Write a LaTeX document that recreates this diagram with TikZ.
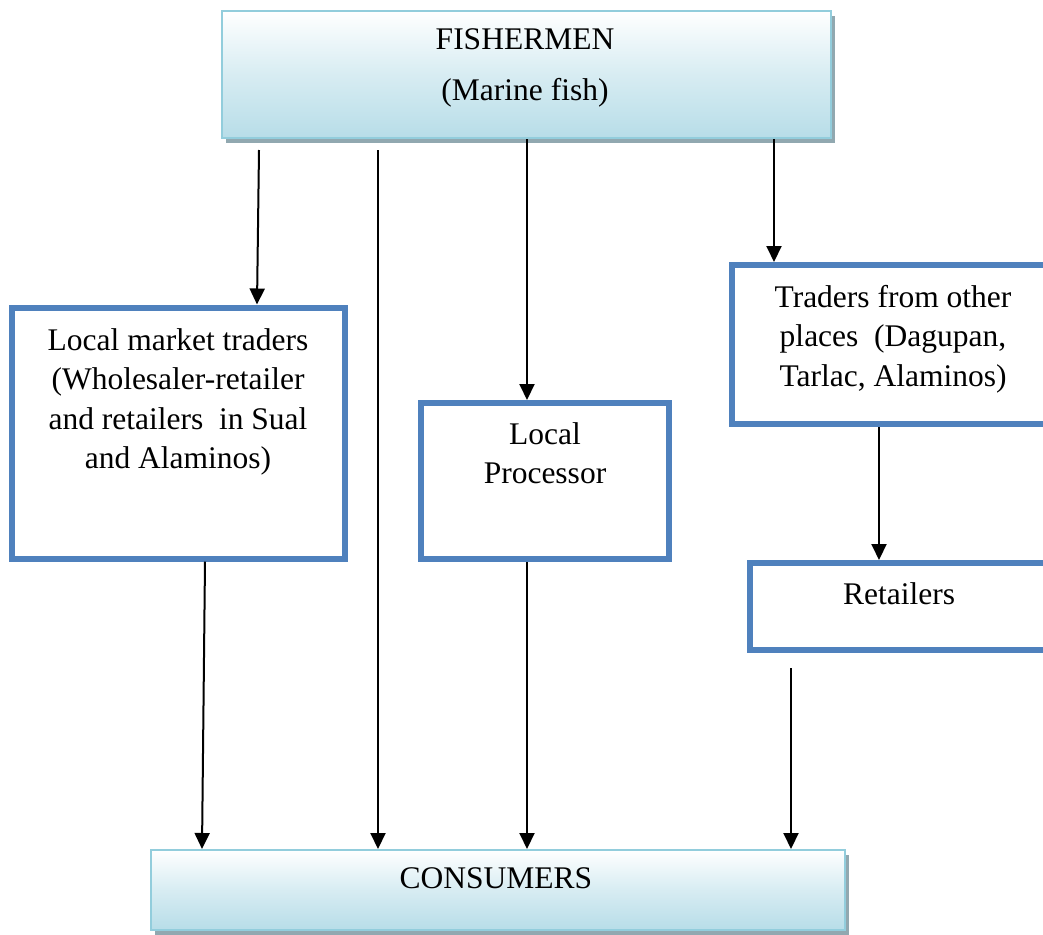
\documentclass[tikz,border=0pt]{standalone}
\usepackage{fontspec}
\setmainfont{Liberation Serif}
\usetikzlibrary{arrows.meta,calc,shadows}
\definecolor{boxblue}{RGB}{79,129,189}
\definecolor{lightedge}{RGB}{146,205,220}
\definecolor{fillblue}{RGB}{183,221,232}
\definecolor{shadowgray}{RGB}{145,168,176}
\tikzset{
  bluebox/.style={draw=boxblue, line width=6pt, fill=white, inner sep=0pt},
  gradbox/.style={draw=lightedge, line width=2pt, inner sep=0pt,
    top color=white, bottom color=fillblue, middle color=fillblue!55!white,
    drop shadow={shadow xshift=4pt, shadow yshift=-5pt, fill=shadowgray, opacity=1}},
  txt/.style={align=center, inner sep=0pt, anchor=base,
    font=\fontsize{31.5}{39.5}\selectfont},
  arr/.style={line width=2pt, -{Triangle[length=16pt,width=15pt]}}
}
\begin{document}
\begin{tikzpicture}[x=1pt,y=-1pt]
\useasboundingbox (0,0) rectangle (1043,934);
\clip (0,0) rectangle (1043,934);
% boxes
\node[gradbox, minimum width=609pt, minimum height=127pt] (fish) at (526.5,74.5) {};
\node[gradbox, minimum width=694pt, minimum height=80pt] (cons) at (498,890) {};
\node[bluebox, minimum width=333pt, minimum height=251pt] (lmt) at (178.5,433) {};
\node[bluebox, minimum width=248pt, minimum height=156pt] (lp) at (545,481) {};
\node[bluebox, minimum width=322pt, minimum height=159pt] (trad) at (893,344.5) {};
\node[bluebox, minimum width=298pt, minimum height=87pt] (ret) at (899,606.5) {};
% texts (anchor base = baseline of the last line)
\node[txt] (fishA) at (525,50) {FISHERMEN};
\node[txt] (fishB) at (525,100) {(Marine fish)};
\node[txt] (consT) at (496,888) {CONSUMERS};
\node[txt] (lmtT) at (178,468.5) {Local market traders\\(Wholesaler-retailer\\and retailers \ in Sual\\and Alaminos)};
\node[txt] (lpT) at (545,483.5) {Local\\Processor};
\node[txt] (tradT) at (893,386) {Traders from other\\places \ (Dagupan,\\Tarlac, Alaminos)};
\node[txt] (retT) at (899,604) {Retailers};
% connectors
\draw[arr] ($(fish.south)+(-267.5,11)$) -- ($(lmt.north)+(78.5,0)$);
\draw[arr] ($(fish.south)+(-148.5,11)$) -- ($(cons.north)+(-120,0)$);
\draw[arr] ($(fish.south)+(0.5,0)$) -- ($(lp.north)+(-18,0)$);
\draw[arr] ($(fish.south)+(247.5,0)$) -- ($(trad.north)+(-119,0)$);
\draw[arr] ($(lmt.south)+(26.5,0)$) -- ($(cons.north)+(-296,0)$);
\draw[arr] ($(lp.south)+(-18,0)$) -- ($(cons.north)+(29,0)$);
\draw[arr] ($(trad.south)+(-14,0)$) -- ($(ret.north)+(-20,0)$);
\draw[arr] ($(ret.south)+(-108,15)$) -- ($(cons.north)+(293,0)$);
\end{tikzpicture}
\end{document}
